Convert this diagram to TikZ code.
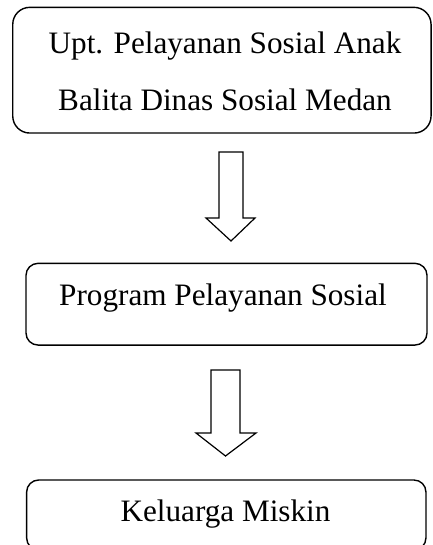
\documentclass[tikz,border=0pt]{standalone}
\usepackage{fontspec}
\setmainfont{Liberation Serif}
\begin{document}
\begin{tikzpicture}[x=1pt,y=-1pt,
  boxstyle/.style={draw, line width=1.4pt, inner sep=0pt, rectangle},
  txt/.style={font=\fontsize{31.2}{37}\selectfont, anchor=base, inner sep=0pt},
  blockarrow/.style={draw, line width=1.2pt, fill=white, line join=miter}]
\useasboundingbox (0,0) rectangle (432,545);
% boxes
\node[boxstyle, rounded corners=17pt, minimum width=418.3pt, minimum height=125.7pt] (b1) at (221.9,70.2) {};
\node[boxstyle, rounded corners=12pt, minimum width=401pt, minimum height=81.7pt] (b2) at (226.5,304.2) {};
\node[boxstyle, rounded corners=12pt, minimum width=399.3pt, minimum height=70pt] (b3) at (226.3,515) {};
% texts
\node[txt] (t1a) at (225,54) {Upt. Pelayanan Sosial Anak};
\node[txt] (t1b) at (225,110.7) {Balita Dinas Sosial Medan};
\node[txt] (t2) at (223,305) {Program Pelayanan Sosial};
\node[txt] (t3) at (225.5,521.7) {Keluarga Miskin};
% block arrows
\draw[blockarrow] (219,152) -- (243,152) -- (243,218) -- (255,218) -- (231,241) -- (206,218) -- (219,218) -- cycle;
\draw[blockarrow] (211,370) -- (240,370) -- (240,433) -- (256,433) -- (225.5,456) -- (196,433) -- (211,433) -- cycle;
\end{tikzpicture}
\end{document}
